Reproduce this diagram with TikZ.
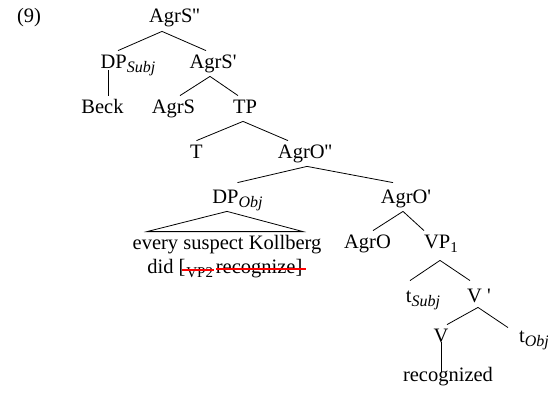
\documentclass[tikz,border=0pt]{standalone}
\usepackage{fontspec}
\setmainfont{Liberation Serif}[Ligatures=TeXOff]
\usetikzlibrary{positioning}
\newcommand{\subit}[1]{\raisebox{-4pt}{\fontsize{16}{16}\selectfont\itshape #1}}
\newcommand{\subrm}[1]{\raisebox{-4pt}{\fontsize{15}{15}\selectfont #1}}
\begin{document}
\begin{tikzpicture}[x=1pt,y=-1pt,inner sep=0mm,line width=0.8pt]
\tikzstyle{cat}=[anchor=base,font=\fontsize{20.5}{24}\selectfont,text height=17pt,text depth=8pt]
\tikzstyle{words}=[anchor=base west,font=\fontsize{20.5}{24}\selectfont]
\tikzstyle{strike}=[red,line width=1.3pt]
\useasboundingbox (0,0) rectangle (548,396);
\node at (29,23) (ex)[cat] {(9)};
\node at (174.5,23) (agrs2)[cat] {AgrS''};
\node at (128,68) (dpsubj)[cat] {DP\subit{Subj}};
\node at (213,68) (agrs1)[cat] {AgrS'};
\node at (102.5,113) (beck)[cat] {Beck};
\node at (173.5,113) (agrs)[cat] {AgrS};
\node at (245,113) (tp)[cat] {TP};
\node at (196.5,158) (t)[cat] {T};
\node at (305,158) (agro2)[cat] {AgrO''};
\node at (237.5,203) (dpobj)[cat] {DP\subit{Obj}};
\node at (406,203) (agro1)[cat] {AgrO'};
\node at (227,249) (every)[cat] {every suspect Kollberg};
\node at (367.5,248) (agro)[cat] {AgrO};
\node at (441,248) (vp1)[cat] {VP\subrm{1}};
\node at (147,273) (did)[words] {did [};
\node (vptwo)[words,base right=0pt of did] {\subrm{VP2}};
\node (recog2)[words,base right=2pt of vptwo] {recognize]};
\node at (423,302) (tsubj)[cat] {t\subit{Subj}};
\node at (479,302) (vbar)[cat] {V '};
\node at (441,342) (v)[cat] {V};
\node at (534,342) (tobj)[cat] {t\subit{Obj}};
\node at (448,381) (recog)[cat] {recognized};
\draw ([xshift=-12.5pt]agrs2.south) -- ([xshift=-10pt]dpsubj.north);
\draw ([xshift=-12.5pt]agrs2.south) -- ([xshift=-7pt]agrs1.north);
\draw ([xshift=-20pt,yshift=6pt]dpsubj.south) -- ([xshift=5.5pt]beck.north);
\draw ([xshift=-3pt]agrs1.south) -- ([xshift=6.5pt]agrs.north);
\draw ([xshift=-3pt]agrs1.south) -- ([xshift=-7pt]tp.north);
\draw ([xshift=-2pt]tp.south) -- (t.north);
\draw ([xshift=-2pt]tp.south) -- ([xshift=-17pt]agro2.north);
\draw ([xshift=2pt]agro2.south) -- ([yshift=3pt]dpobj.north);
\draw ([xshift=2pt]agro2.south) -- ([xshift=-13pt,yshift=3pt]agro1.north);
% roof over the object DP
\draw ([xshift=-10.5pt]dpobj.south) -- ([xshift=-80pt]every.north) -- ([xshift=76pt]every.north) -- cycle;
\draw ([xshift=-3pt]agro1.south) -- ([xshift=5.5pt]agro.north);
\draw ([xshift=-3pt]agro1.south) -- ([xshift=-17pt]vp1.north);
\draw ([xshift=-1pt,yshift=-4pt]vp1.south) -- ([xshift=-13pt,yshift=4pt]tsubj.north);
\draw ([xshift=-1pt,yshift=-4pt]vp1.south) -- ([xshift=-9pt,yshift=4pt]vbar.north);
\draw ([xshift=-1pt,yshift=3pt]vbar.south) -- ([xshift=6pt]v.north);
\draw ([xshift=-1pt,yshift=3pt]vbar.south) -- ([xshift=-26pt,yshift=-3pt]tobj.north);
\draw ([yshift=8pt]v.south) -- ([xshift=-7pt,yshift=-8pt]recog.north);
\draw[strike] ([xshift=-4pt,yshift=3pt]vptwo.base west) -- ([xshift=1pt,yshift=3pt]vptwo.base east);
\draw[strike] ([xshift=1pt,yshift=4pt]recog2.base west) -- ([xshift=3pt,yshift=4pt]recog2.base east);
\end{tikzpicture}
\end{document}
